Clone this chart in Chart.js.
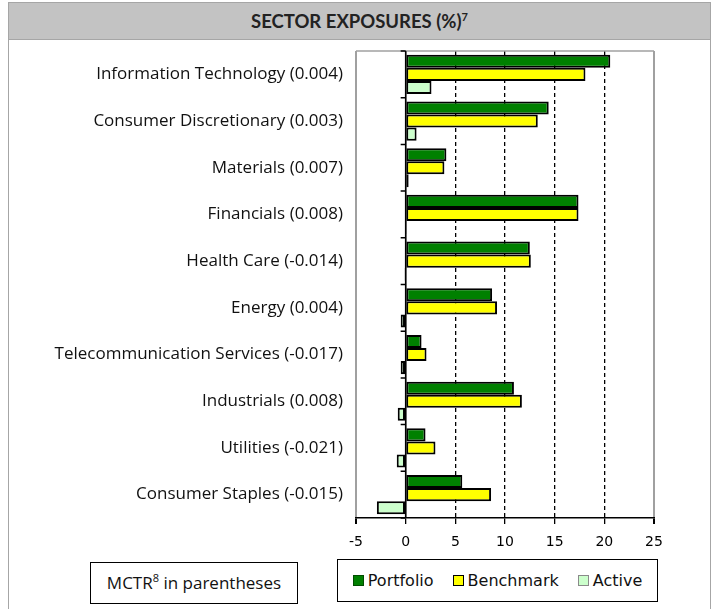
<!DOCTYPE html>
<html>
<head>
<meta charset="utf-8">
<script src="https://cdn.jsdelivr.net/npm/chart.js@4"></script>
<style>
  html, body { margin: 0; padding: 0; background: #fff; }
  #wrap { position: relative; width: 720px; height: 609px; overflow: hidden; }
  #frame { position: absolute; left: 8px; top: 2px; width: 703px; height: 620px; border: 1px solid #a6a6a6; box-sizing: border-box; }
  #title { position: absolute; left: 8px; top: 2px; width: 703px; height: 38px; background: #c3c3c3; border: 1px solid #a6a6a6; box-sizing: border-box;
           font: bold 18.5px Lato, "Open Sans", sans-serif; color: #222; text-align: center; line-height: 36px; }
  #title sup { font-size: 11px; vertical-align: 7px; line-height: 0; }
  #note sup { font-size: 11px; vertical-align: 7px; line-height: 0; }
  #chart { position: absolute; left: 0; top: 0; }
  #note { position: absolute; left: 90px; top: 562px; width: 208px; height: 42px; border: 1px solid #000; box-sizing: border-box;
          font: 17px "Open Sans", sans-serif; color: #111; text-align: center; line-height: 40px; background: #fff; }
  #legend { position: absolute; left: 337px; top: 559px; width: 321px; height: 43px; border: 1px solid #000; box-sizing: border-box; background: #fff;
            display: flex; align-items: center; justify-content: center; font: 16px "DejaVu Sans", sans-serif; color: #111; gap: 19px; }
  .item { display: flex; align-items: center; }
  .sw { width: 11px; height: 11px; border: 1.5px solid #000; margin-right: 4px; display: inline-block; box-sizing: border-box; }
</style>
</head>
<body>
<div id="wrap">
  <div id="frame"></div>
  <canvas id="chart" width="720" height="609"></canvas>
  <div id="title">SECTOR EXPOSURES (%)<sup>7</sup></div>
  <div id="note">MCTR<sup>8</sup> in parentheses</div>
  <div id="legend"></div>
</div>
<script>
const categories = ["Information Technology", "Consumer Discretionary", "Materials", "Financials", "Health Care",
  "Energy", "Telecommunication Services", "Industrials", "Utilities", "Consumer Staples"];
const mctr = ["0.004", "0.003", "0.007", "0.008", "-0.014", "0.004", "-0.017", "0.008", "-0.021", "-0.015"];
const portfolio = [20.6, 14.4, 4.1, 17.4, 12.5, 8.7, 1.6, 10.9, 2.0, 5.7];
const benchmark = [18.1, 13.3, 3.9, 17.4, 12.6, 9.2, 2.1, 11.7, 3.0, 8.6];
const active = [2.6, 1.1, 0.3, 0.1, -0.1, -0.5, -0.5, -0.8, -0.9, -2.9];
const xTicks = [-5, 0, 5, 10, 15, 20, 25];
const seriesNames = ["Portfolio", "Benchmark", "Active"];
const seriesColors = ["#008000", "#ffff00", "#ccffcc"];
const swatchBorders = ["#004d00", "#000000", "#8a8a8a"];

const labels = categories.map((c, i) => c + " (" + mctr[i] + ")");

const frameAndTicks = {
  id: "frameAndTicks",
  beforeDatasetsDraw(chart) {
    const { ctx, chartArea: a } = chart;
    ctx.save();
    ctx.strokeStyle = "#a0a0a0";
    ctx.lineWidth = 1.5;
    ctx.beginPath();
    ctx.moveTo(a.left, a.top); ctx.lineTo(a.right, a.top);
    ctx.stroke();
    ctx.restore();
  },
  afterDatasetsDraw(chart) {
    const { ctx, chartArea: a, scales } = chart;
    const x0 = scales.x.getPixelForValue(0);
    const n = chart.data.labels.length;
    ctx.save();
    ctx.strokeStyle = "#000";
    ctx.lineWidth = 1.5;
    ctx.beginPath();
    ctx.moveTo(x0, a.top); ctx.lineTo(x0, a.bottom);
    for (let i = 0; i <= n; i++) {
      const y = a.top + i * (a.bottom - a.top) / n;
      ctx.moveTo(x0 - 5, y); ctx.lineTo(x0, y);
    }
    ctx.stroke();
    ctx.restore();
  }
};

new Chart(document.getElementById("chart"), {
  type: "bar",
  data: {
    labels: labels,
    datasets: [portfolio, benchmark, active].map((d, i) => ({
      label: seriesNames[i],
      data: d,
      backgroundColor: seriesColors[i],
      borderColor: "#000",
      borderWidth: 2,
      borderSkipped: false,
      categoryPercentage: 0.84,
      barPercentage: 1.0
    }))
  },
  options: {
    indexAxis: "y",
    responsive: false,
    animation: false,
    devicePixelRatio: 1,
    layout: { padding: { top: 51, right: 66, bottom: 0, left: 0 } },
    plugins: { legend: { display: false }, tooltip: { enabled: false } },
    scales: {
      x: {
        min: -5, max: 25,
        afterBuildTicks: s => { s.ticks = xTicks.map(v => ({ value: v })); },
        afterFit: s => { s.height = 91; },
        grid: {
          color: c => (c.tick && (c.tick.value === -5 || c.tick.value === 25)) ? "#a0a0a0" : "#000",
          lineWidth: c => (c.tick && (c.tick.value === -5 || c.tick.value === 25)) ? 2 : 1.3,
          tickColor: "#000",
          tickLength: 6,
          tickBorderDash: []
        },
        border: {
          display: true, color: "#000", width: 1.5,
          dash: c => (c.tick && c.tick.value > 0 && c.tick.value < 25) ? [4, 3] : []
        },
        ticks: { color: "#000", padding: 10, font: { family: "DejaVu Sans", size: 14 } }
      },
      y: {
        afterFit: s => { s.width = 356; },
        grid: { display: false, drawTicks: false },
        border: { display: false },
        ticks: { color: "#111", padding: 13, font: { family: "Open Sans", size: 17 } }
      }
    }
  },
  plugins: [frameAndTicks]
});

const lg = document.getElementById("legend");
seriesNames.forEach((n, i) => {
  const it = document.createElement("span");
  it.className = "item";
  const sw = document.createElement("span");
  sw.className = "sw";
  sw.style.background = seriesColors[i];
  sw.style.borderColor = swatchBorders[i];
  it.appendChild(sw);
  it.appendChild(document.createTextNode(n));
  lg.appendChild(it);
});
</script>
</body>
</html>
